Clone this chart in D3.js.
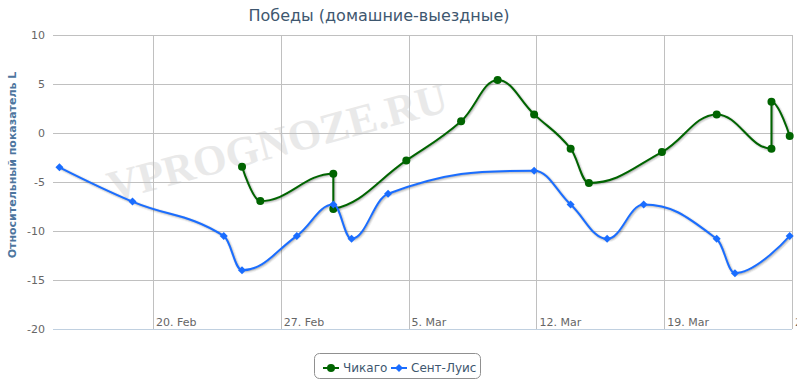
<!DOCTYPE html>
<html>
<head>
<meta charset="utf-8">
<script src="https://cdn.jsdelivr.net/npm/d3@7"></script>
<style>
  body { margin: 0; background: #fff; }
  svg { display: block; font-family: "DejaVu Sans", Verdana, sans-serif; }
</style>
</head>
<body>
<svg id="chart" width="797" height="381"></svg>
<script>
// Chicago (green)
const chiDates  = ['2012-02-25','2012-02-26','2012-03-01','2012-03-01','2012-03-05','2012-03-08','2012-03-10',
                   '2012-03-12','2012-03-14','2012-03-15','2012-03-19','2012-03-22','2012-03-25','2012-03-25','2012-03-26'];
const chiValues = [-3.45, -6.95, -4.15, -7.75, -2.8, 1.2, 5.4, 1.9, -1.6, -5.1, -1.95, 1.9, -1.6, 3.2, -0.3];

// St. Louis (blue)
const stlDates  = ['2012-02-15','2012-02-19','2012-02-24','2012-02-25','2012-02-28','2012-03-01','2012-03-02',
                   '2012-03-04','2012-03-12','2012-03-14','2012-03-16','2012-03-18','2012-03-22','2012-03-23','2012-03-26'];
const stlValues = [-3.5, -7.0, -10.5, -14.0, -10.5, -7.3, -10.8, -6.2, -3.85, -7.3, -10.8, -7.3, -10.8, -14.3, -10.5];

const seriesNames = ['Чикаго', 'Сент-Луис'];
const yTicks = [-20, -15, -10, -5, 0, 5, 10];
const title = 'Победы (домашние-выездные)';
const yTitle = 'Относительный показатель L';
const watermark = 'VPROGNOZE.RU';

const W = 797, H = 381;
const plot = {left: 53, right: 792, top: 35, bottom: 329};
const svg = d3.select('#chart');

// dates were stored at Moscow midnight
const parseDate = s => d3.isoParse(s + 'T00:00:00+03:00');

const x = d3.scaleUtc()
  .domain([d3.isoParse('2012-02-14T12:30:00Z'), d3.isoParse('2012-03-26T00:00:00Z')])
  .range([plot.left, plot.right]);
const y = d3.scaleLinear().domain([-20, 10]).range([plot.bottom, plot.top]);

// watermark
svg.append('text')
  .attr('transform', 'translate(281,156) rotate(-15)')
  .attr('text-anchor', 'middle')
  .attr('font-family', '"Liberation Serif", "DejaVu Serif", serif')
  .attr('font-weight', 'bold')
  .attr('font-size', 43)
  .attr('fill', '#e9e9e9')
  .text(watermark);

// grid
const xTicks = x.ticks(d3.utcMonday.every(1));
svg.append('g').selectAll('line')
  .data(yTicks.filter(d => d !== -20))
  .join('line')
  .attr('x1', plot.left).attr('x2', plot.right)
  .attr('y1', d => Math.round(y(d)) + 0.5).attr('y2', d => Math.round(y(d)) + 0.5)
  .attr('stroke', '#C0C0C0').attr('stroke-width', 1);
svg.append('g').selectAll('line')
  .data(xTicks)
  .join('line')
  .attr('x1', d => Math.round(x(d)) + 0.5).attr('x2', d => Math.round(x(d)) + 0.5)
  .attr('y1', plot.top).attr('y2', plot.bottom)
  .attr('stroke', '#C0C0C0').attr('stroke-width', 1);

// x axis line
svg.append('line')
  .attr('x1', plot.left).attr('x2', plot.right)
  .attr('y1', Math.round(y(-20)) + 0.5).attr('y2', Math.round(y(-20)) + 0.5)
  .attr('stroke', '#C0D0E0').attr('stroke-width', 1);

// y labels
svg.append('g').selectAll('text')
  .data(yTicks)
  .join('text')
  .attr('x', 45).attr('y', d => y(d) + 4)
  .attr('text-anchor', 'end')
  .attr('font-size', 11).attr('fill', '#666')
  .text(d => d);

// x labels
const fmt = d3.utcFormat('%-d. %b');
svg.append('g').selectAll('text')
  .data(xTicks)
  .join('text')
  .attr('x', d => x(d) + 3).attr('y', 326)
  .attr('font-size', 11).attr('fill', '#666')
  .text(d => fmt(d));

// titles
svg.append('text')
  .attr('x', 379).attr('y', 21)
  .attr('text-anchor', 'middle')
  .attr('font-size', 16).attr('fill', '#3E576F')
  .text(title);
svg.append('text')
  .attr('transform', 'translate(16,165) rotate(-90)')
  .attr('text-anchor', 'middle')
  .attr('font-size', 11).attr('font-weight', 'bold').attr('fill', '#4D759E')
  .text(yTitle);

// highcharts-like spline
function splinePath(pts){
  const sm = 1.5, den = sm + 1;
  const p = d3.path();
  let prevR = null;
  pts.forEach((pt, i) => {
    const last = pts[i-1], next = pts[i+1];
    let lcx, lcy, rcx, rcy;
    if (last && next) {
      lcx = (sm*pt.x + last.x)/den; lcy = (sm*pt.y + last.y)/den;
      rcx = (sm*pt.x + next.x)/den; rcy = (sm*pt.y + next.y)/den;
      const corr = (rcy - lcy)*(rcx - pt.x)/(rcx - lcx) + pt.y - rcy;
      lcy += corr; rcy += corr;
      if (lcy > last.y && lcy > pt.y) { lcy = Math.max(last.y, pt.y); rcy = 2*pt.y - lcy; }
      else if (lcy < last.y && lcy < pt.y) { lcy = Math.min(last.y, pt.y); rcy = 2*pt.y - lcy; }
      if (rcy > next.y && rcy > pt.y) { rcy = Math.max(next.y, pt.y); lcy = 2*pt.y - rcy; }
      else if (rcy < next.y && rcy < pt.y) { rcy = Math.min(next.y, pt.y); lcy = 2*pt.y - rcy; }
    }
    if (i === 0) p.moveTo(pt.x, pt.y);
    else p.bezierCurveTo(prevR ? prevR[0] : last.x, prevR ? prevR[1] : last.y,
                         lcx ?? pt.x, lcy ?? pt.y, pt.x, pt.y);
    prevR = (last && next) ? [rcx, rcy] : null;
  });
  return p.toString();
}

const diamond = (cx, cy, r) => `M${cx},${cy-r}L${cx+r},${cy}L${cx},${cy+r}L${cx-r},${cy}Z`;

const series = [
  {name: seriesNames[0], color: '#006400', dates: chiDates, values: chiValues, marker: 'circle'},
  {name: seriesNames[1], color: '#1A6DFF', dates: stlDates, values: stlValues, marker: 'diamond'}
];

series.forEach(s => {
  const pts = s.dates.map((d, i) => ({x: x(parseDate(d)), y: y(s.values[i])}));
  const dStr = splinePath(pts);
  const g = svg.append('g');
  // shadow
  [5, 3, 1].forEach((w, i) => {
    g.append('path')
      .attr('d', dStr)
      .attr('transform', 'translate(1,1)')
      .attr('fill', 'none')
      .attr('stroke', 'black')
      .attr('stroke-opacity', 0.05*(i+1))
      .attr('stroke-width', w)
      .attr('stroke-linejoin', 'round');
  });
  g.append('path')
    .attr('d', dStr)
    .attr('fill', 'none')
    .attr('stroke', s.color)
    .attr('stroke-width', 2)
    .attr('stroke-linejoin', 'round');
  if (s.marker === 'circle') {
    g.selectAll('circle').data(pts).join('circle')
      .attr('cx', d => d.x).attr('cy', d => d.y).attr('r', 4)
      .attr('fill', s.color);
  } else {
    g.selectAll('.mk').data(pts).join('path')
      .attr('class', 'mk')
      .attr('d', d => diamond(d.x, d.y, 4))
      .attr('fill', s.color);
  }
});

// legend
const lg = svg.append('g');
lg.append('rect')
  .attr('x', 314.5).attr('y', 353.5).attr('width', 166).attr('height', 25)
  .attr('rx', 5).attr('ry', 5)
  .attr('fill', '#fff').attr('stroke', '#909090').attr('stroke-width', 1);
const legendX = [323, 391];
series.forEach((s, i) => {
  const lx = legendX[i], ly = 368;
  lg.append('line')
    .attr('x1', lx).attr('x2', lx + 16).attr('y1', ly).attr('y2', ly)
    .attr('stroke', s.color).attr('stroke-width', 2);
  if (s.marker === 'circle') {
    lg.append('circle').attr('cx', lx + 8).attr('cy', ly).attr('r', 4).attr('fill', s.color);
  } else {
    lg.append('path').attr('d', diamond(lx + 8, ly, 4)).attr('fill', s.color);
  }
  lg.append('text')
    .attr('x', lx + 20).attr('y', ly + 4)
    .attr('font-size', 12).attr('fill', '#3E576F')
    .text(s.name);
});
</script>
</body>
</html>
